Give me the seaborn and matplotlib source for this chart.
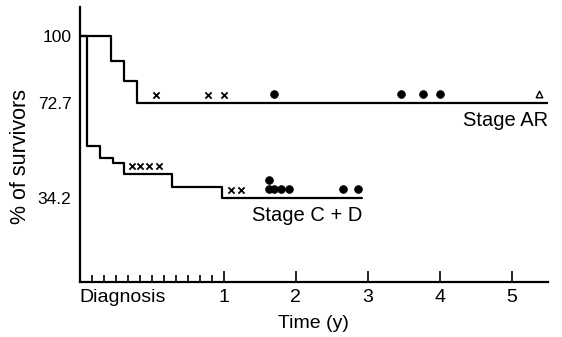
import numpy as np
import pandas as pd
import matplotlib
matplotlib.use("Agg")
import matplotlib.pyplot as plt
import seaborn as sns

# survival steps (time in years, % surviving)
ar_times = [0.0, 0.22, 0.31, 0.40, 5.5]
ar_surv = [100, 89.8, 81.6, 72.7, 72.7]
cd_times = [0.0, 0.05, 0.14, 0.23, 0.31, 0.64, 0.99, 2.92]
cd_surv = [100, 55.2, 50.3, 48.3, 43.9, 38.6, 34.2, 34.2]

# censored patients: (time, level of curve)
ar_cross_t = [0.53, 0.89, 1.0]
ar_dot_t = [1.69, 3.46, 3.77, 4.0]
ar_tri_t = [5.38]
ar_level = 72.7
cd_cross_t = [0.36, 0.42, 0.48, 0.55, 1.10, 1.24]
cd_cross_lvl = [43.9, 43.9, 43.9, 43.9, 34.2, 34.2]
cd_dot_t = [1.62, 1.62, 1.70, 1.80, 1.91, 2.66, 2.86]
cd_level = 34.2

y_ticks = [100, 72.7, 34.2]
x_ticks = [0, 1, 2, 3, 4, 5]
x_ticklabels = ["Diagnosis", "1", "2", "3", "4", "5"]


# first year is drawn twice as wide as the following ones
def fwd(t):
    t = np.asarray(t, dtype=float)
    return np.where(t <= 1, 2 * t, t + 1)


def inv(u):
    u = np.asarray(u, dtype=float)
    return np.where(u <= 2, u / 2, u - 1)


sns.set_style("white")
plt.rcParams["font.family"] = ["Liberation Sans", "DejaVu Sans"]
for key in ["text.color", "axes.labelcolor", "xtick.color", "ytick.color"]:
    plt.rcParams[key] = "black"

fig = plt.figure(figsize=(5.62, 3.37), dpi=100)
ax = fig.add_axes([0.142, 0.163, 0.833, 0.816])
ax.set_xscale("function", functions=(fwd, inv))

lw = 1.6
sns.lineplot(x=ar_times, y=ar_surv, drawstyle="steps-post", color="black",
             lw=lw, ax=ax, sort=False, estimator=None)
sns.lineplot(x=cd_times, y=cd_surv, drawstyle="steps-post", color="black",
             lw=lw, ax=ax, sort=False, estimator=None)

off = 3.4
sns.scatterplot(x=ar_cross_t, y=[ar_level + off] * len(ar_cross_t), marker="x",
                s=20, color="black", linewidth=1.3, ax=ax)
sns.scatterplot(x=cd_cross_t, y=np.array(cd_cross_lvl) + off, marker="x",
                s=20, color="black", linewidth=1.3, ax=ax)
sns.scatterplot(x=ar_dot_t, y=[ar_level + off + 0.4] * len(ar_dot_t), marker="o",
                s=32, color="black", edgecolor="black", ax=ax)
sns.scatterplot(x=ar_tri_t, y=[ar_level + off + 0.4] * len(ar_tri_t), marker="^",
                s=22, facecolor="white", edgecolor="black", linewidth=1.0, ax=ax)

dots = pd.DataFrame({"t": cd_dot_t})
dots["y"] = cd_level + off + 0.4 + 3.4 * dots.groupby("t").cumcount()
sns.scatterplot(data=dots, x="t", y="y", marker="o", s=32, color="black",
                edgecolor="black", ax=ax)

ax.set_xlim(0, 5.5)
ax.set_ylim(0, 111.7)

ax.set_yticks(y_ticks)
ax.set_yticklabels(["100", "72.7", "34.2"], fontsize=12.5)
ax.tick_params(axis="y", length=0, pad=6)

ax.set_xticks(x_ticks)
ax.set_xticklabels(x_ticklabels, fontsize=14)
ax.get_xticklabels()[0].set_horizontalalignment("left")
ax.set_xticks(np.arange(1, 12) / 12, minor=True)
ax.tick_params(axis="x", which="both", bottom=True, direction="in", width=1.2)
ax.tick_params(axis="x", which="major", length=8, pad=5)
ax.tick_params(axis="x", which="minor", length=5)

for side in ["top", "right"]:
    ax.spines[side].set_visible(False)
for side in ["left", "bottom"]:
    ax.spines[side].set_linewidth(1.6)
    ax.spines[side].set_color("black")

ax.set_xlabel("Time (y)", fontsize=14)
ax.set_ylabel("% of survivors", fontsize=15.5)
ax.xaxis.set_label_coords(0.498, -0.118)
ax.yaxis.set_label_coords(-0.105, 0.455)

ax.text(5.5, 65.5, "Stage AR", ha="right", va="center", fontsize=14.5)
ax.text(2.92, 27, "Stage C + D", ha="right", va="center", fontsize=14.5)

fig.savefig("out.png", dpi=100)
